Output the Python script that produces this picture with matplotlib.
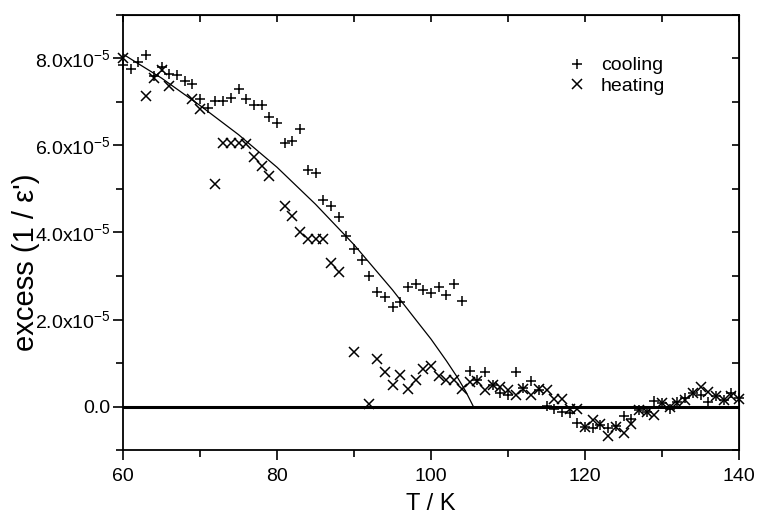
import numpy as np
import matplotlib
matplotlib.use("Agg")
import matplotlib.pyplot as plt
from matplotlib.ticker import MultipleLocator, FuncFormatter

plt.rcParams['font.family'] = ['Liberation Sans', 'DejaVu Sans']

# excess values in units of 1e-5
cool_T = [60, 61, 62, 63, 64, 65, 66, 67, 68, 69, 70, 71, 72, 73, 74, 75, 76, 77, 78, 79,
          80, 81, 82, 83, 84, 85, 86, 87, 88, 89, 90, 91, 92, 93, 94, 95, 96, 97, 98, 99,
          100, 101, 102, 103, 104, 105, 106, 107, 108, 109, 110, 111, 112, 113, 114, 115,
          116, 117, 118, 119, 120, 121, 122, 123, 124, 125, 126, 127, 128, 129, 130, 131,
          132, 133, 134, 135, 136, 137, 138, 139, 140]
cool_y = [7.86, 7.76, 7.92, 8.07, 7.60, 7.80, 7.65, 7.63, 7.48, 7.42, 7.06, 6.86, 7.02, 7.02,
          7.10, 7.31, 7.08, 6.94, 6.93, 6.66, 6.52, 6.05, 6.11, 6.37, 5.44, 5.36, 4.75, 4.60,
          4.36, 3.92, 3.63, 3.37, 3.00, 2.64, 2.51, 2.28, 2.41, 2.75, 2.81, 2.68, 2.61, 2.74,
          2.56, 2.81, 2.43, 0.81, 0.60, 0.79, 0.50, 0.32, 0.26, 0.79, 0.42, 0.59, 0.38, 0.02,
          -0.05, -0.12, -0.16, -0.39, -0.47, -0.50, -0.43, -0.49, -0.45, -0.22, -0.28, -0.07,
          -0.12, 0.13, 0.08, -0.05, 0.10, 0.20, 0.32, 0.26, 0.11, 0.24, 0.16, 0.30, 0.20]

heat_T = [60, 63, 64, 65, 66, 69, 70, 72, 73, 74, 75, 76, 77, 78, 79, 81, 82, 83, 84, 85,
          86, 87, 88, 90, 92, 93, 94, 95, 96, 97, 98, 99, 100, 101, 102, 103, 104, 105, 106,
          107, 108, 109, 110, 111, 112, 113, 114, 115, 116, 117, 118, 119, 120, 121, 122,
          123, 124, 125, 126, 127, 128, 129, 130, 131, 132, 133, 134, 135, 136, 137, 138,
          139, 140]
heat_y = [8.02, 7.13, 7.56, 7.74, 7.36, 7.08, 6.83, 5.12, 6.06, 6.06, 6.06, 6.03, 5.73, 5.53,
          5.31, 4.60, 4.37, 4.00, 3.86, 3.86, 3.86, 3.31, 3.09, 1.25, 0.05, 1.10, 0.79, 0.49,
          0.73, 0.41, 0.62, 0.87, 0.93, 0.70, 0.60, 0.62, 0.41, 0.56, 0.58, 0.37, 0.49, 0.45,
          0.37, 0.26, 0.41, 0.27, 0.40, 0.37, 0.18, 0.18, -0.06, -0.06, -0.47, -0.31, -0.41,
          -0.67, -0.48, -0.62, -0.40, -0.08, -0.13, -0.20, 0.07, -0.01, 0.09, 0.14, 0.30,
          0.45, 0.34, 0.24, 0.14, 0.24, 0.18]

# fitted curve
fit_T = [60, 65, 70, 75, 80, 85, 90, 95, 98, 100, 102, 103.5, 104.5, 105.5]
fit_y = [8.10, 7.55, 6.92, 6.25, 5.50, 4.65, 3.72, 2.68, 2.00, 1.55, 1.05, 0.65, 0.35, 0.0]

scale = 1e-5

fig = plt.figure(figsize=(7.57, 5.16), dpi=100)
ax = fig.add_axes([123 / 757, 66 / 516, 616 / 757, 435 / 516])

ax.axhline(0, color='black', lw=2.2, zorder=1)
ax.plot(fit_T, np.array(fit_y) * scale, color='black', lw=0.9, zorder=2)
ax.plot(cool_T, np.array(cool_y) * scale, ls='none', marker='+', ms=7, mew=1.1,
        color='black', label='cooling', clip_on=False, zorder=3)
ax.plot(heat_T, np.array(heat_y) * scale, ls='none', marker='x', ms=7, mew=1.1,
        color='black', label='heating', clip_on=False, zorder=3)

ax.set_xlim(60, 140)
ax.set_ylim(-1e-5, 9e-5)
ax.xaxis.set_major_locator(MultipleLocator(20))
ax.xaxis.set_minor_locator(MultipleLocator(10))
ax.yaxis.set_major_locator(MultipleLocator(2e-5))
ax.yaxis.set_minor_locator(MultipleLocator(1e-5))


def fmt(v, pos):
    m = v / scale
    if abs(m) < 1e-9:
        return '0.0'
    return '%.1fx10$^{\\mathregular{-5}}$' % m


ax.yaxis.set_major_formatter(FuncFormatter(fmt))
ax.tick_params(which='both', direction='out', top=False, right=False, labelsize=14, width=1.2)
ax.tick_params(which='major', length=7)
ax.tick_params(which='minor', length=5)
ax.tick_params(axis='x', which='major', pad=6)
ax.tick_params(axis='y', which='major', pad=2)

# inward ticks on top and right
sec_x = ax.secondary_xaxis('top')
sec_x.xaxis.set_major_locator(MultipleLocator(10))
sec_x.tick_params(direction='in', length=5, width=1.2, labeltop=False)
sec_y = ax.secondary_yaxis('right')
sec_y.yaxis.set_major_locator(MultipleLocator(1e-5))
sec_y.tick_params(direction='in', length=5, width=1.2, labelright=False)

for s in ax.spines.values():
    s.set_linewidth(1.3)

ax.set_xlabel('T / K', fontsize=17)
ax.xaxis.label.set_va('baseline')
ax.xaxis.set_label_coords(0.5, -60 / 435)
ax.set_ylabel("excess (1 / ε')", fontsize=21)
ax.yaxis.set_label_coords(-83 / 616, (450 - 262) / 435)

ax.legend(loc='upper left', bbox_to_anchor=(556 / 757, 1 - 47 / 516),
          bbox_transform=fig.transFigure, frameon=False, fontsize=14,
          handlelength=1.2, handletextpad=0.6, labelspacing=0.15, borderpad=0)

fig.savefig('out.png', dpi=100)
